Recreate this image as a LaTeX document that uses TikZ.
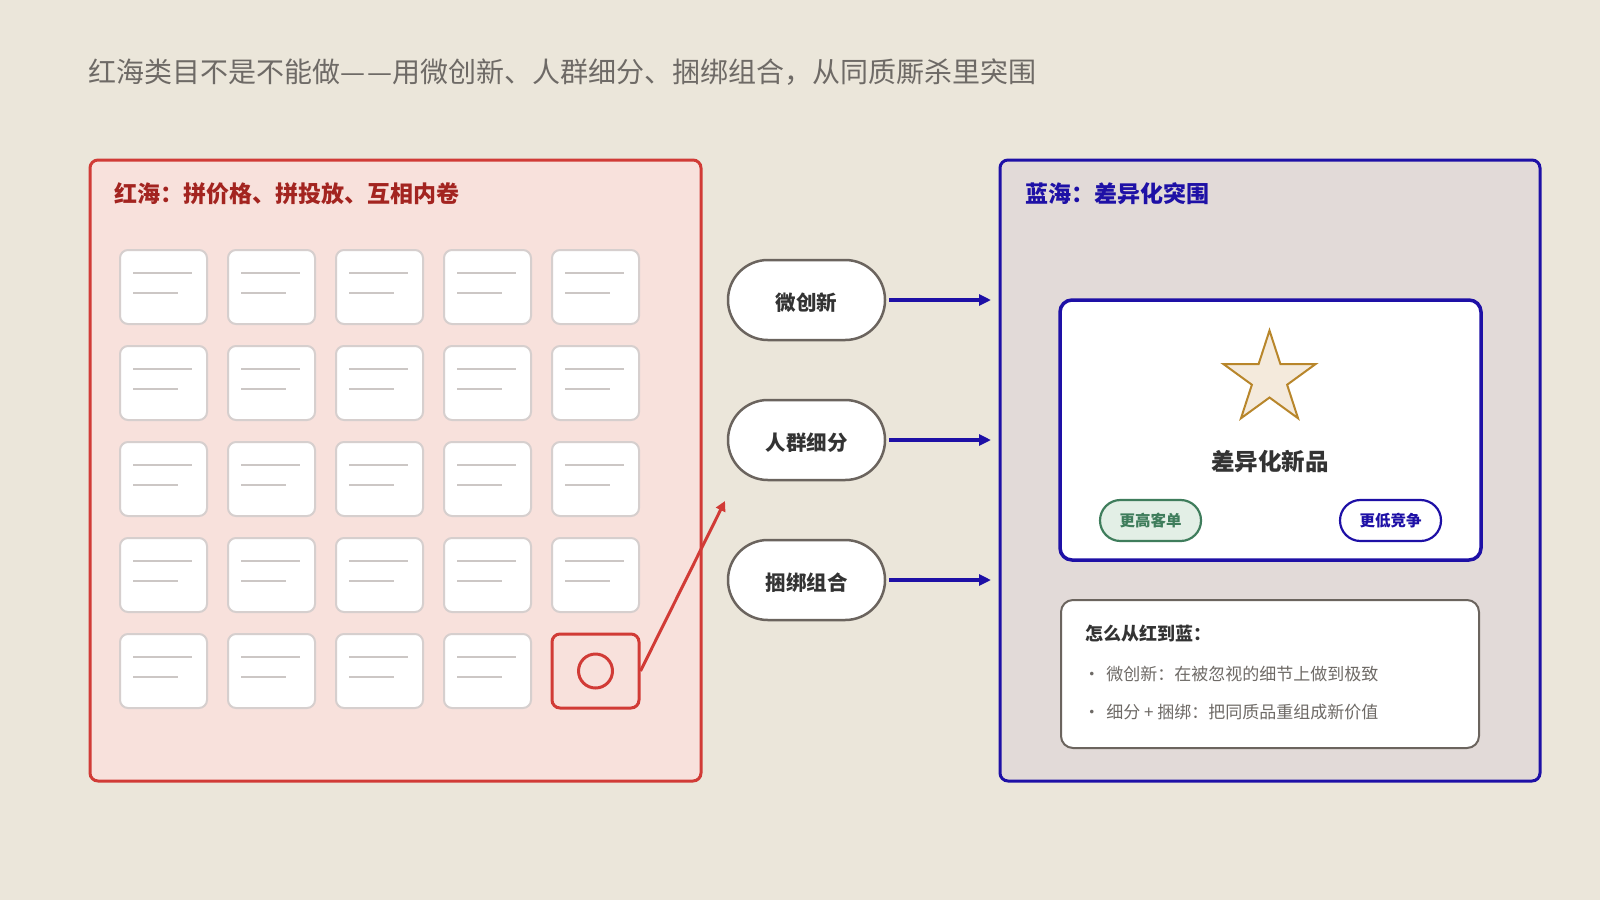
\documentclass[tikz,border=0pt]{standalone}
\usepackage{fontspec}
\setmainfont{Noto Sans CJK SC}
\usepackage{xcolor}
\usetikzlibrary{shapes.geometric, arrows.meta, positioning, calc}

\definecolor{bgpaper}{HTML}{EBE6DA}
\definecolor{redline}{HTML}{D13B36}
\definecolor{redfill}{HTML}{F8E1DC}
\definecolor{redtext}{HTML}{A32420}
\definecolor{blueline}{HTML}{1E10A6}
\definecolor{bluefill}{HTML}{E2DAD8}
\definecolor{cardline}{HTML}{D6CFCE}
\definecolor{stripe}{HTML}{CCC7C5}
\definecolor{pillline}{HTML}{6B645E}
\definecolor{inktext}{HTML}{333333}
\definecolor{graytext}{HTML}{6E6A66}
\definecolor{stargold}{HTML}{B8862B}
\definecolor{starfill}{HTML}{F4EADC}
\definecolor{greenline}{HTML}{3F7D5C}
\definecolor{greenfill}{HTML}{E3EFE6}
\newcommand{\fsz}[1]{\fontsize{#1}{#1}\selectfont}

\begin{document}
\begin{tikzpicture}[
    x=0.5pt, y=-0.5pt,
    panel/.style={rectangle, draw=#1, line width=1.5pt, rounded corners=4pt, inner sep=0pt},
    card/.style={rectangle, draw=cardline, fill=white, line width=1pt, rounded corners=4pt, minimum width=43.5pt, minimum height=37pt, inner sep=0pt},
    pill/.style={rectangle, draw=pillline, fill=white, line width=1.25pt, rounded corners=19.9pt, minimum width=78.5pt, minimum height=40pt, text height=10.5pt, text depth=0pt, font=\fsz{10.25pt}\bfseries, text=inktext},
    tag/.style={rectangle, draw=#1, line width=1.1pt, rounded corners=10.2pt, minimum width=50.5pt, minimum height=20.5pt, font=\fsz{7.75pt}\bfseries, text=#1},
    bluearrow/.style={-{Triangle[length=6pt, width=5.5pt]}, blueline, line width=2pt},
]
    % Canvas
    \fill[bgpaper] (0,0) rectangle (1600,900);
    \useasboundingbox (0,0) rectangle (1600,900);

    % Heading
    \node[anchor=west, inner sep=0pt, text=graytext, font=\fsz{14pt}] (heading) at (88,72) {红海类目不是不能做—\kern1pt—用微创新、人群细分、捆绑组合，从同质厮杀里突围};

    % Red sea
    \node[panel=redline, fill=redfill, minimum width=305.5pt, minimum height=310.5pt] (redsea) at (395.5,470.5) {};
    \node[anchor=west, inner sep=0pt, text=redtext, font=\fsz{11.5pt}\bfseries] (redtitle) at (114,194) {红海：拼价格、拼投放、互相内卷};

    \foreach \row in {0,...,4} {
        \foreach \col in {0,...,4} {
            \ifnum\numexpr\row*10+\col\relax=44
            \else
                \node[card] (c\row\col) at (163.5+108*\col, 287+96*\row) {};
                \draw[stripe, line width=1pt] ($(c\row\col.north west)+(14,24)$) -- ++(59,0);
                \draw[stripe, line width=1pt] ($(c\row\col.north west)+(14,44)$) -- ++(45,0);
            \fi
        }
    }

    % The odd one out
    \node[card, draw=redline, fill=redfill, line width=1.5pt] (odd) at (595.5,671) {};
    \node[circle, draw=redline, line width=1.5pt, minimum size=17pt, inner sep=0pt] (dot) at (odd.center) {};
    \coordinate (escape) at (725,501);
    \draw[-{Triangle[length=5pt, width=5pt]}, redline, line width=1.5pt] (odd.east) -- (escape);

    % Levers
    \node[pill] (micro) at (806.5,300) {微创新};
    \node[pill] (crowd) at (806.5,440) {人群细分};
    \node[pill] (bundle) at (806.5,580) {捆绑组合};

    \coordinate (inmicro) at (991,300);
    \coordinate (incrowd) at (991,440);
    \coordinate (inbundle) at (991,580);
    \draw[bluearrow] ([xshift=1.5pt]micro.east) -- (inmicro);
    \draw[bluearrow] ([xshift=1.5pt]crowd.east) -- (incrowd);
    \draw[bluearrow] ([xshift=1.5pt]bundle.east) -- (inbundle);

    % Blue sea
    \node[panel=blueline, fill=bluefill, minimum width=270pt, minimum height=310.5pt] (bluesea) at (1270,470.5) {};
    \node[anchor=west, inner sep=0pt, text=blueline, font=\fsz{11.5pt}\bfseries] (bluetitle) at (1025,194) {蓝海：差异化突围};

    \node[rectangle, draw=blueline, fill=white, line width=1.75pt, rounded corners=6pt, minimum width=210.5pt, minimum height=130pt] (hero) at (1270.5,430) {};
    \node[star, star points=5, star point ratio=2.618, draw=stargold, fill=starfill, line width=1pt, minimum size=48.5pt, inner sep=0pt] (star) at (1269.5,379) {};
    \node[text=inktext, font=\fsz{11.75pt}\bfseries, inner sep=0pt] (product) at (1270,462) {差异化新品};
    \node[tag=greenline, fill=greenfill] (pricier) at (1150.5,520.5) {更高客单};
    \node[tag=blueline, fill=white] (calmer) at (1390.5,520.5) {更低竞争};

    % How to
    \node[rectangle, draw=pillline, fill=white, line width=1pt, rounded corners=6pt, minimum width=209pt, minimum height=74pt] (howto) at (1270,674) {};
    \node[anchor=west, inner sep=0pt, text=inktext, font=\fsz{9pt}\bfseries] (howhead) at (1085,634) {怎么从红到蓝：};
    \node[anchor=west, inner sep=0pt, text=graytext, font=\fsz{8.5pt}] (howone) at (1083,674) {·\hspace{3pt}微创新：在被忽视的细节上做到极致};
    \node[anchor=west, inner sep=0pt, text=graytext, font=\fsz{8.5pt}] (howtwo) at (1083,712) {·\hspace{3pt}细分 + 捆绑：把同质品重组成新价值};
\end{tikzpicture}
\end{document}
